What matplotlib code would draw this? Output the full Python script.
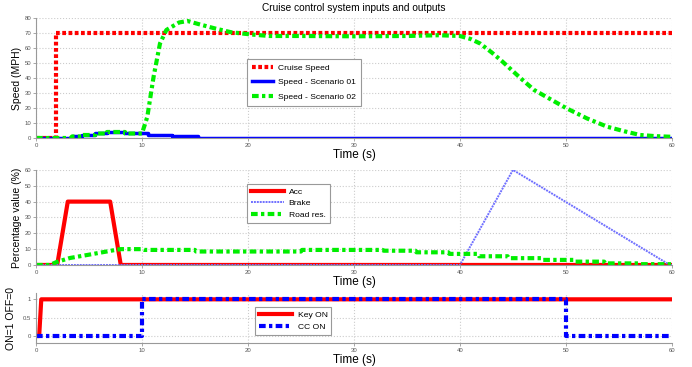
import matplotlib
matplotlib.use('Agg')
import matplotlib.pyplot as plt

plt.rcParams['font.family'] = ['Liberation Sans', 'DejaVu Sans']

# top panel: speeds
cruise_t = [0, 1.9, 1.9, 60]
cruise_v = [0, 0, 70, 70]

s1_t = [0, 3.4, 4.3, 5.6, 6.7, 8.4, 10.6, 12.8, 15.3, 60]
s1_v = [0, 1, 2, 3, 4, 3, 2, 1, 0, 0]

s2_t = [0, 3.4, 3.4, 4.3, 4.3, 5.6, 5.6, 6.7, 6.7, 8.4, 8.4, 10.0,
        10.5, 11.1, 11.7, 12.3, 13.5, 14.3, 15.3, 16.9, 18.4, 20.3, 22, 25,
        30, 35, 38, 40, 41, 41.9, 43, 44, 45.7, 47, 48.5, 50, 52, 53.9,
        55.5, 57, 58.5, 60]
s2_v = [0, 0, 1, 1, 2, 2, 3, 3, 4, 4, 3, 3,
        14, 41, 63, 72, 77, 78, 76, 73, 70.5, 69, 68, 68,
        67.8, 68, 68.5, 68, 66, 63, 57, 51, 40, 32, 26, 20, 13, 7.5,
        4.5, 2, 1.2, 0.8]

# middle panel: pedal inputs and road resistance
acc_t = [0, 2, 3, 7, 8, 60]
acc_v = [0, 0, 40, 40, 0, 0]
brake_t = [0, 40, 45, 59.8, 60]
brake_v = [0, 0, 60, 0, 0]
road_t = [0, 1.3, 2, 3.2, 5, 7.5, 8, 10, 10.2, 15, 15.1, 25, 25.1, 32.7, 32.8,
          35.8, 35.9, 38.9, 39, 41.7, 41.8, 44.5, 44.6, 47.7, 47.8, 50.8, 50.9,
          53.6, 53.7, 56.8, 56.9, 60]
road_v = [0, 0, 2, 4.4, 6.5, 9.5, 10, 10, 9.5, 9.5, 8.5, 8.5, 9.5, 9.5, 9,
          9, 8, 8, 7, 7, 5.5, 5.5, 4.3, 4.3, 3.2, 3.2, 2.1,
          2.1, 1, 1, 0.5, 0.5]

# bottom panel: switches
key_t = [0, 0.3, 0.5, 60]
key_v = [0, 0, 1, 1]
cc_t = [0, 10, 10, 50, 50, 60]
cc_v = [0, 0, 1, 1, 0, 0]
onoff_ticks = [0, 0.5, 1]
onoff_labels = ['0', '0.5', '1']

GRAY = '#999999'
TICK = '#555555'
DASHDOT = (0, (1.6, 0.8, 0.8, 0.8))


def style_axes(ax, yticks, ylim):
    ax.set_xlim(0, 60)
    ax.set_ylim(*ylim)
    ax.set_xticks(range(0, 61, 10))
    ax.set_yticks(yticks)
    ax.grid(True, linestyle=':', color='#cccccc', linewidth=0.8)
    for s in ['top', 'right']:
        ax.spines[s].set_visible(False)
    for s in ['left', 'bottom']:
        ax.spines[s].set_color(GRAY)
        ax.spines[s].set_linewidth(0.8)
    ax.tick_params(labelsize=4.3, colors=GRAY, labelcolor=TICK, length=2,
                   width=0.6, pad=1.5)
    ax.set_xlabel('Time (s)', fontsize=8.5, labelpad=0.5)


def add_legend(ax, anchor, hl, spacing, bpad):
    leg = ax.legend(loc='upper left', bbox_to_anchor=anchor, borderaxespad=0,
                    fontsize=6.1, fancybox=False, framealpha=1,
                    handlelength=hl, handletextpad=0.6, labelspacing=spacing,
                    borderpad=bpad)
    leg.get_frame().set_edgecolor(GRAY)
    leg.get_frame().set_linewidth(0.8)


fig = plt.figure(figsize=(6.92, 3.67), dpi=100)

ax1 = fig.add_axes([0.052, 0.624, 0.919, 0.327])
ax1.plot(cruise_t, cruise_v, color='red', lw=3, linestyle=(0, (0.9, 0.6)),
         label='Cruise Speed')
ax1.plot(s1_t, s1_v, color='blue', lw=2.5, drawstyle='steps-post',
         label='Speed - Scenario 01')
ax1.plot(s2_t, s2_v, color='#00ee00', lw=3, linestyle=DASHDOT,
         label='Speed - Scenario 02')
style_axes(ax1, range(0, 81, 10), (0, 80))
ax1.set_ylabel('Speed (MPH)', fontsize=7.5, labelpad=1.5)
ax1.set_title('Cruise control system inputs and outputs', fontsize=7.3, pad=5)
add_legend(ax1, (0.332, 0.658), 2.4, 0.75, 0.6)

ax2 = fig.add_axes([0.052, 0.278, 0.919, 0.259])
ax2.plot(acc_t, acc_v, color='red', lw=3, label='Acc')
ax2.plot(brake_t, brake_v, color='#7070ff', lw=1.4, linestyle=(0, (1, 0.5)),
         label='Brake')
ax2.plot(road_t, road_v, color='#00ee00', lw=3, linestyle=DASHDOT,
         label='Road res.')
style_axes(ax2, range(0, 61, 10), (0, 60))
ax2.set_ylabel('Percentage value (%)', fontsize=7.5, labelpad=1.5)
add_legend(ax2, (0.332, 0.853), 3.8, 0.4, 0.5)

ax3 = fig.add_axes([0.052, 0.0654, 0.919, 0.136])
ax3.plot(key_t, key_v, color='red', lw=3, label='Key ON')
ax3.plot(cc_t, cc_v, color='blue', lw=3, linestyle=DASHDOT, label='CC ON')
style_axes(ax3, onoff_ticks, (-0.19, 1.17))
ax3.set_yticklabels(onoff_labels)
ax3.set_ylabel('ON=1 OFF=0', fontsize=7.5, labelpad=5)
add_legend(ax3, (0.344, 0.72), 4.0, 0.55, 0.45)

fig.savefig('out.png', dpi=100)
